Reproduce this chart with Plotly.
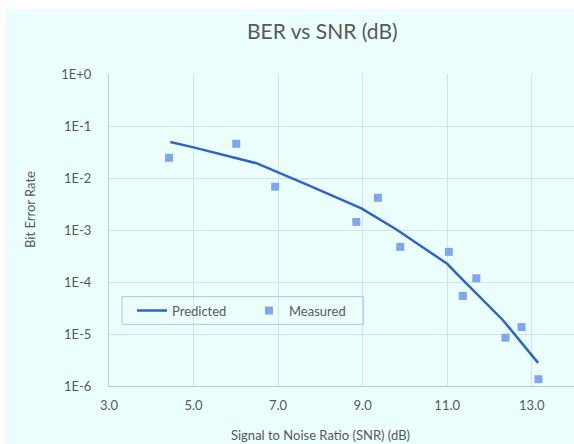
import plotly.graph_objects as go

# ---- data ----
pred_snr = [4.45, 5.0, 6.5, 7.0, 7.75, 8.97, 9.8, 10.35, 11.0, 11.3, 11.9, 12.32, 13.15]
pred_ber = [0.0491, 0.0388, 0.0191, 0.0129, 0.00708, 0.0026, 0.00102, 5.1e-4, 2.24e-4,
            1.26e-4, 4.17e-5, 1.84e-5, 2.78e-6]

meas_snr = [4.42, 6.01, 6.93, 8.85, 9.36, 9.89, 11.04, 11.37, 11.69, 12.38, 12.76, 13.16]
meas_ber = [0.0245, 0.0455, 0.0068, 0.00143, 0.00416, 0.000474, 0.00038, 0.000054,
            0.000118, 0.0000085, 0.0000136, 0.00000135]

y_tickvals = [1, 1e-1, 1e-2, 1e-3, 1e-4, 1e-5, 1e-6]
y_ticktext = ["1E+0", "1E-1", "1E-2", "1E-3", "1E-4", "1E-5", "1E-6"]
x_tickvals = [3, 5, 7, 9, 11, 13]
x_ticktext = ["3.0", "5.0", "7.0", "9.0", "11.0", "13.0"]

title_text = "BER vs SNR (dB)"
x_title = "Signal to Noise Ratio (SNR) (dB)"
y_title = "Bit Error Rate"

# ---- styling ----
W, H = 574, 444
L, R, T, B = 109, 0, 74, 58
pw = W - L - R
ph = H - T - B

def px_x(p):
    return (p - L) / pw

def px_y(p):
    return (H - B - p) / ph

FONT = "Lato"
TXT = "#595959"
BG = "#EBFFFD"
GRID = "#D3DFF6"
AXIS = "#B8C9EA"
LINE = "#2F66C4"
MARK = "#7FA6F0"

fig = go.Figure()
fig.add_trace(go.Scatter(x=pred_snr, y=pred_ber, mode="lines", name="Predicted",
                         line=dict(color=LINE, width=2.5)))
fig.add_trace(go.Scatter(x=meas_snr, y=meas_ber, mode="markers", name="Measured",
                         marker=dict(symbol="square", size=8, color=MARK)))

fig.update_layout(
    width=W, height=H,
    margin=dict(l=L, r=R, t=T, b=B, pad=0),
    paper_bgcolor="white",
    plot_bgcolor="rgba(0,0,0,0)",
    font=dict(family=FONT, color=TXT, size=13),
    showlegend=True,
    legend=dict(orientation="h", x=px_x(132), y=px_y(310.5), xanchor="left", yanchor="middle",
                bgcolor="rgba(0,0,0,0)", borderwidth=0,
                font=dict(family=FONT, size=13, color=TXT),
                entrywidth=72, entrywidthmode="pixels"),
    xaxis=dict(type="linear", range=[3, 14], tickvals=x_tickvals, ticktext=x_ticktext,
               showgrid=True, gridcolor=GRID, gridwidth=1,
               showline=True, linecolor=AXIS, linewidth=1, zeroline=False,
               ticks="", ticklabelstandoff=7,
               tickfont=dict(family=FONT, size=13, color=TXT)),
    yaxis=dict(type="log", range=[-6, 0], tickvals=y_tickvals, ticktext=y_ticktext,
               showgrid=True, gridcolor=GRID, gridwidth=1,
               showline=True, linecolor=AXIS, linewidth=1, zeroline=False,
               ticks="", ticklabelstandoff=14,
               tickfont=dict(family=FONT, size=13, color=TXT)),
    shapes=[
        dict(type="rect", xref="paper", yref="paper", layer="below",
             x0=px_x(5), x1=px_x(W + 20), y0=px_y(H + 20), y1=px_y(9),
             fillcolor=BG, line=dict(width=0)),
        dict(type="rect", xref="paper", yref="paper", layer="above",
             x0=px_x(122), x1=px_x(363.3), y0=px_y(324.3), y1=px_y(296.7),
             fillcolor="rgba(0,0,0,0)", line=dict(color="#A9C4EE", width=1)),
    ],
    annotations=[
        dict(text=title_text, xref="paper", yref="paper", x=px_x(322), y=px_y(30),
             xanchor="center", yanchor="middle", showarrow=False,
             font=dict(family=FONT, size=21, color=TXT)),
        dict(text=x_title, xref="paper", yref="paper", x=px_x(320), y=px_y(435),
             xanchor="center", yanchor="middle", showarrow=False,
             font=dict(family=FONT, size=13, color=TXT)),
        dict(text=y_title, xref="paper", yref="paper", x=px_x(30), y=px_y(210),
             xanchor="center", yanchor="middle", showarrow=False, textangle=-90,
             font=dict(family=FONT, size=13, color=TXT)),
    ],
)

fig.write_html("out.html", config={"displayModeBar": False},
               post_script="document.body.style.margin='0px';document.body.style.overflow='hidden';")
